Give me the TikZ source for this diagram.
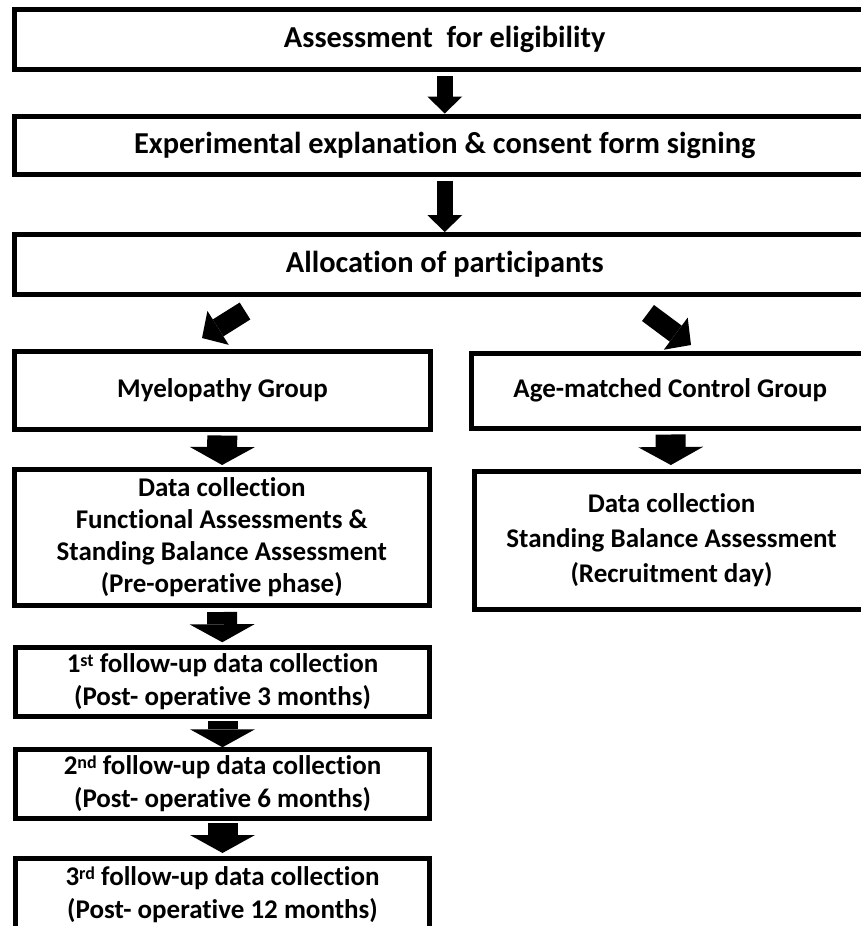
\documentclass[tikz,border=0pt]{standalone}
\usepackage{fontspec}
\setmainfont{Carlito}[Ligatures=NoCommon]
\usetikzlibrary{arrows.meta,calc}

\newcommand{\ordsup}[1]{\raisebox{0.5ex}{\fontsize{9}{9}\selectfont #1}}

\tikzset{
  stage/.style={draw, line width=2.5pt, align=center, inner sep=0pt,
    font=\bfseries\fontsize{13.5}{16}\selectfont},
  widestage/.style={stage, font=\bfseries\fontsize{15.2}{18}\selectfont},
  toparrow/.style={line width=8pt, -{Triangle[length=8.5pt,width=17.5pt,line width=0pt]}},
  diagarrow/.style={line width=10pt, -{Triangle[length=9.5pt,width=20pt,line width=0pt]}},
  lowarrow/.style={line width=15pt, -{Triangle[length=9pt,width=32.5pt,line width=0pt]}}
}

\begin{document}
\begin{tikzpicture}[x=0.5pt,y=-0.5pt]
  \useasboundingbox (0,0) rectangle (861,926);
  \clip (0,0) rectangle (861,926);

  \node[widestage, minimum width=430.25pt, minimum height=30pt] (A) at (444.75,39.5) {Assessment~ for eligibility};
  \node[widestage, minimum width=430.25pt, minimum height=29pt] (B) at (444.75,145) {Experimental explanation \& consent form signing};
  \node[widestage, minimum width=430.25pt, minimum height=30pt] (C) at (444.75,264.5) {Allocation of participants};

  \node[stage, minimum width=208pt, minimum height=39pt] (M) at (222.5,390) {Myelopathy Group};
  \node[stage, minimum width=198.75pt, minimum height=37.5pt] (G) at (670.25,390.5) {Age-matched Control Group};

  \node[stage, minimum width=207.25pt, minimum height=68pt] (D1) at (221.75,537.5) {Data collection\\Functional Assessments \&\\Standing Balance Assessment\\(Pre-operative phase)};
  \node[stage, minimum width=197.5pt, minimum height=69pt, font=\bfseries\fontsize{13.5}{17.5}\selectfont] (D2) at (671.5,540.5) {Data collection\\Standing Balance Assessment\\(Recruitment day)};

  \node[stage, minimum width=207pt, minimum height=34.25pt, font=\bfseries\fontsize{13.5}{16.5}\selectfont] (F1) at (222.5,682) {1\ordsup{st} follow-up data collection\\(Post- operative 3 months)};
  \node[stage, minimum width=207pt, minimum height=34.25pt, font=\bfseries\fontsize{13.5}{16.5}\selectfont] (F2) at (222.5,784) {2\ordsup{nd} follow-up data collection\\(Post- operative 6 months)};
  \node[stage, minimum width=207pt, minimum height=36.5pt, font=\bfseries\fontsize{13.5}{16.5}\selectfont] (F3) at (222.5,895) {3\ordsup{rd} follow-up data collection\\(Post- operative 12 months)};

  \draw[toparrow, shorten <=2pt] (A) -- (B);
  \draw[toparrow, shorten <=2pt] (B) -- (C);
  \draw[diagarrow] ($(C.south)+(-199.75,14)$) -- ($(M.north)+(-20.5,-10.5)$);
  \draw[diagarrow] ($(C.south)+(203.25,16)$) -- ($(G.north)+(20.75,-5.5)$);
  \draw[lowarrow, shorten <=2pt, shorten >=1pt] (M) -- (D1);
  \draw[lowarrow, shorten <=2pt, shorten >=2pt] (G) -- (D2);
  \draw[lowarrow, shorten <=2pt, shorten >=1.5pt] (D1) -- (F1);
  \draw[lowarrow, shorten <=1pt] (F1) -- (F2);
  \draw[lowarrow, shorten <=1pt, shorten >=1.5pt] (F2) -- (F3);
\end{tikzpicture}
\end{document}
